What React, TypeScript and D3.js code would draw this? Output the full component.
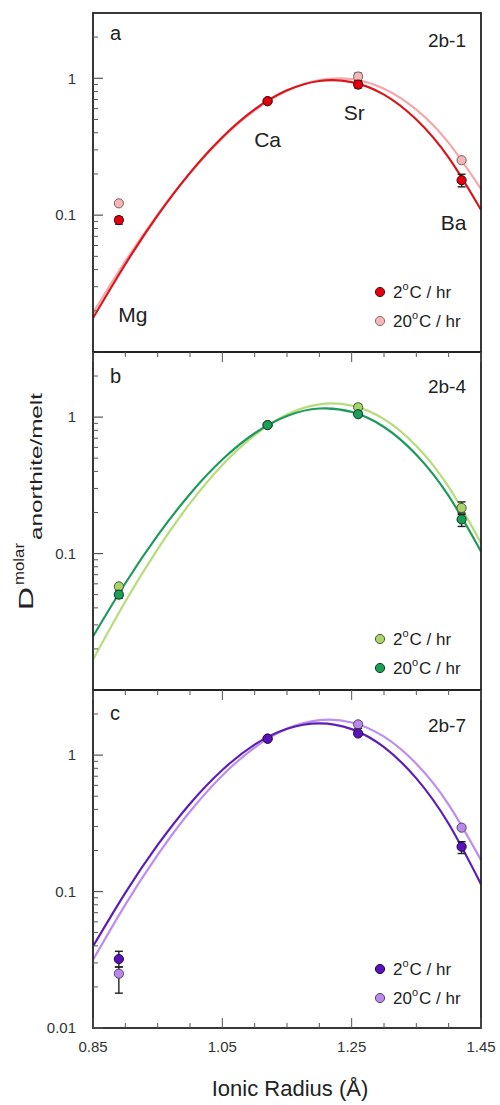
import React from "react";
import * as d3 from "d3";

// ---------- data ----------
const fitRadius = [0.85, 0.9, 0.95, 1.0, 1.05, 1.1, 1.15, 1.2, 1.25, 1.3, 1.35, 1.4, 1.45];
const elementNames = ["Mg", "Ca", "Sr", "Ba"];
const ionicRadius = [0.89, 1.12, 1.26, 1.42];

// panel a (2b-1)
const aFit2 = [0.0177, 0.0438, 0.0995, 0.2037, 0.371, 0.5927, 0.8165, 0.956, 0.938, 0.76, 0.4997, 0.2633, 0.1094];
const aFit20 = [0.0193, 0.0461, 0.1014, 0.2032, 0.3656, 0.5823, 0.81, 0.97, 0.986, 0.839, 0.59, 0.3376, 0.155];
const aD2 = [0.092, 0.68, 0.9, 0.18];
const aD2Lo = [0.086, 0.68, 0.85, 0.161];
const aD2Hi = [0.097, 0.68, 0.94, 0.199];
const aD20 = [0.122, 0.68, 1.03, 0.252];
const aD20Lo = [0.122, 0.68, 0.96, 0.252];
const aD20Hi = [0.122, 0.68, 1.09, 0.252];

// panel b (2b-4)
const bFit2 = [0.0167, 0.0445, 0.1077, 0.2335, 0.4462, 0.7391, 1.0447, 1.2394, 1.2144, 0.9665, 0.6152, 0.3079, 0.1193];
const bFit20 = [0.0247, 0.0606, 0.1357, 0.2734, 0.4884, 0.7614, 1.0198, 1.156, 1.092, 0.8466, 0.5305, 0.2647, 0.1035];
const bD2 = [0.0575, 0.874, 1.18, 0.216];
const bD2Lo = [0.0575, 0.874, 1.1, 0.198];
const bD2Hi = [0.0575, 0.874, 1.24, 0.239];
const bD20 = [0.05, 0.874, 1.05, 0.178];
const bD20Lo = [0.047, 0.874, 1.05, 0.158];
const bD20Hi = [0.054, 0.874, 1.05, 0.193];

// panel c (2b-7)
const cFit2 = [0.0397, 0.0979, 0.2195, 0.4406, 0.7785, 1.1925, 1.558, 1.71, 1.55, 1.143, 0.6751, 0.3138, 0.1132];
const cFit20 = [0.0316, 0.0802, 0.1856, 0.3859, 0.7096, 1.136, 1.558, 1.804, 1.735, 1.365, 0.8644, 0.4338, 0.1699];
const cD2 = [0.032, 1.32, 1.44, 0.213];
const cD2Lo = [0.028, 1.32, 1.44, 0.19];
const cD2Hi = [0.0365, 1.32, 1.44, 0.232];
const cD20 = [0.025, 1.32, 1.68, 0.294];
const cD20Lo = [0.018, 1.32, 1.57, 0.294];
const cD20Hi = [0.028, 1.32, 1.75, 0.294];

const xMajorTicks = [0.85, 1.05, 1.25, 1.45];
const yMajorTicks = [0.01, 0.1, 1];
const legendLabels = ["2", "20"];

// ---------- layout ----------
const FONT = "'Liberation Sans', Arial, Helvetica, sans-serif";
const L = 93;
const R = 481;
const panelTops = [13, 352, 690];
const panelBottoms = [352, 690, 1028];

type Series = { fit: number[]; d: number[]; lo: number[]; hi: number[]; line: string; fill: string; stroke: string; label: string };

const panels = [
  {
    letter: "a", name: "2b-1", nameDy: 34, letterDy: 27,
    legendDy: [279, 308],
    legend: [
      { fill: "#e4000d", stroke: "#4a1010", label: legendLabels[0] },
      { fill: "#f5b7ba", stroke: "#8a6a6a", label: legendLabels[1] },
    ],
    series: [
      { fit: aFit20, d: aD20, lo: aD20Lo, hi: aD20Hi, line: "#f3a8ab", fill: "#f5b7ba", stroke: "#7a5a5a", label: "20" },
      { fit: aFit2, d: aD2, lo: aD2Lo, hi: aD2Hi, line: "#d9161c", fill: "#e4000d", stroke: "#3a0a0a", label: "2" },
    ] as Series[],
  },
  {
    letter: "b", name: "2b-4", nameDy: 41, letterDy: 31,
    legendDy: [287, 316],
    legend: [
      { fill: "#a9d46c", stroke: "#4a5a30", label: legendLabels[0] },
      { fill: "#1b9e57", stroke: "#0d3a20", label: legendLabels[1] },
    ],
    series: [
      { fit: bFit2, d: bD2, lo: bD2Lo, hi: bD2Hi, line: "#b6dc7c", fill: "#a9d46c", stroke: "#4a5a30", label: "2" },
      { fit: bFit20, d: bD20, lo: bD20Lo, hi: bD20Hi, line: "#1f9a5e", fill: "#1b9e57", stroke: "#0d3a20", label: "20" },
    ] as Series[],
  },
  {
    letter: "c", name: "2b-7", nameDy: 42, letterDy: 30,
    legendDy: [279, 308],
    legend: [
      { fill: "#5a12bf", stroke: "#20083a", label: legendLabels[0] },
      { fill: "#b98ae8", stroke: "#5a4070", label: legendLabels[1] },
    ],
    series: [
      { fit: cFit20, d: cD20, lo: cD20Lo, hi: cD20Hi, line: "#bb8ef0", fill: "#b98ae8", stroke: "#5a4070", label: "20" },
      { fit: cFit2, d: cD2, lo: cD2Lo, hi: cD2Hi, line: "#5b1fb5", fill: "#5a12bf", stroke: "#20083a", label: "2" },
    ] as Series[],
  },
];

const elementLabelPos = [
  { dx: 14, y: 322 },
  { dx: 0, y: 147 },
  { dx: -4, y: 120 },
  { dx: -8, y: 230 },
];

function LegendText({ x, y, label }: { x: number; y: number; label: string }) {
  return (
    <text x={x} y={y} fontSize={17} fontFamily={FONT} fill="#222">
      <tspan>{label}</tspan>
      <tspan fontSize={11} dy={-8}>o</tspan>
      <tspan fontSize={17} dy={8} dx={1}>C / hr</tspan>
    </text>
  );
}

export default function App() {
  const x = d3.scaleLinear().domain([0.85, 1.45]).range([L, R]);
  const xMinor = d3.range(0.85, 1.4501, 0.05);

  return (
    <svg width={500} height={1105} style={{ position: "absolute", left: 0, top: 0, background: "#fff" }}>
      <defs>
        {panels.map((p, i) => (
          <clipPath id={`clip${i}`} key={i}>
            <rect x={L} y={panelTops[i]} width={R - L} height={panelBottoms[i] - panelTops[i]} />
          </clipPath>
        ))}
      </defs>
      {panels.map((p, i) => {
        const top = panelTops[i];
        const bottom = panelBottoms[i];
        const y = d3.scaleLog().domain([0.01, 3]).range([bottom, top]);
        const line = d3
          .line<number>()
          .x((_, k) => x(fitRadius[k]))
          .y((v) => y(v))
          .curve(d3.curveNatural);
        const minorY: number[] = [];
        [0.01, 0.1, 1].forEach((dec) => {
          for (let m = 2; m <= 9; m++) {
            const v = dec * m;
            if (v < 3) minorY.push(v);
          }
        });
        const labels = yMajorTicks.filter((v) => (i === 2 ? true : v >= 0.1));
        return (
          <g key={i}>
            <g clipPath={`url(#clip${i})`}>
              {p.series.map((s, k) => (
                <path key={k} d={line(s.fit) || ""} fill="none" stroke={s.line} strokeWidth={2.2} />
              ))}
            </g>
            {p.series.map((s, k) =>
              s.d.map((v, j) =>
                s.hi[j] > s.lo[j] ? (
                  <g key={`e${k}-${j}`} stroke="#222" strokeWidth={1.4}>
                    <line x1={x(ionicRadius[j])} x2={x(ionicRadius[j])} y1={y(s.lo[j])} y2={y(s.hi[j])} />
                    <line x1={x(ionicRadius[j]) - 4} x2={x(ionicRadius[j]) + 4} y1={y(s.lo[j])} y2={y(s.lo[j])} />
                    <line x1={x(ionicRadius[j]) - 4} x2={x(ionicRadius[j]) + 4} y1={y(s.hi[j])} y2={y(s.hi[j])} />
                  </g>
                ) : null
              )
            )}
            {p.series.map((s, k) =>
              s.d.map((v, j) => (
                <circle key={`p${k}-${j}`} cx={x(ionicRadius[j])} cy={y(v)} r={4.6} fill={s.fill} stroke={s.stroke} strokeWidth={1} />
              ))
            )}
            <rect x={L} y={top} width={R - L} height={bottom - top} fill="none" stroke="#222" strokeWidth={1.8} />
            {minorY.map((v, k) => (
              <line key={`my${k}`} x1={L} x2={L + 5} y1={y(v)} y2={y(v)} stroke="#555" strokeWidth={1} />
            ))}
            {yMajorTicks.map((v, k) => (
              <line key={`My${k}`} x1={L} x2={L + 10} y1={y(v)} y2={y(v)} stroke="#555" strokeWidth={1.2} />
            ))}
            {labels.map((v, k) => (
              <text key={`ly${k}`} x={76} y={y(v)} dy="0.35em" textAnchor="end" fontSize={15} fontFamily={FONT} fill="#333">
                {d3.format("~g")(v)}
              </text>
            ))}
            {i > 0 &&
              xMinor.map((v, k) => {
                const major = xMajorTicks.some((t) => Math.abs(t - v) < 1e-6);
                return (
                  <line key={`tx${k}`} x1={x(v)} x2={x(v)} y1={top} y2={top + (major ? 10 : 5)} stroke="#555" strokeWidth={1} />
                );
              })}
            {i === 2 &&
              xMinor.map((v, k) => {
                const major = xMajorTicks.some((t) => Math.abs(t - v) < 1e-6);
                return (
                  <line key={`bx${k}`} x1={x(v)} x2={x(v)} y1={bottom} y2={bottom - (major ? 10 : 5)} stroke="#555" strokeWidth={1} />
                );
              })}
            <text x={110} y={top + p.letterDy} fontSize={20} fontFamily={FONT} fill="#222">{p.letter}</text>
            <text x={466} y={top + p.nameDy} textAnchor="end" fontSize={19} fontFamily={FONT} fill="#222">{p.name}</text>
            {p.legend.map((lg, k) => (
              <g key={`lg${k}`}>
                <circle cx={380} cy={top + p.legendDy[k]} r={4.6} fill={lg.fill} stroke={lg.stroke} strokeWidth={1} />
                <LegendText x={393} y={top + p.legendDy[k] + 6} label={lg.label} />
              </g>
            ))}
            {i === 0 &&
              elementNames.map((el, j) => (
                <text key={el} x={x(ionicRadius[j]) + elementLabelPos[j].dx} y={elementLabelPos[j].y} textAnchor="middle" fontSize={21} fontFamily={FONT} fill="#222">
                  {el}
                </text>
              ))}
          </g>
        );
      })}
      {xMajorTicks.map((v, k) => (
        <text key={`xl${k}`} x={x(v)} y={1052} textAnchor="middle" fontSize={15} fontFamily={FONT} fill="#333">
          {v.toFixed(2)}
        </text>
      ))}
      <text x={290} y={1096} textAnchor="middle" fontSize={22} fontFamily={FONT} fill="#222">Ionic Radius (Å)</text>
      <g transform="rotate(-90)" fontFamily={FONT} fill="#222">
        <text x={-610} y={33.3} fontSize={21} textLength={23} lengthAdjust="spacingAndGlyphs">D</text>
        <text x={-585} y={23.5} fontSize={15} textLength={42} lengthAdjust="spacingAndGlyphs">molar</text>
        <text x={-540} y={41.7} fontSize={16} textLength={147} lengthAdjust="spacingAndGlyphs">anorthite/melt</text>
      </g>
    </svg>
  );
}
